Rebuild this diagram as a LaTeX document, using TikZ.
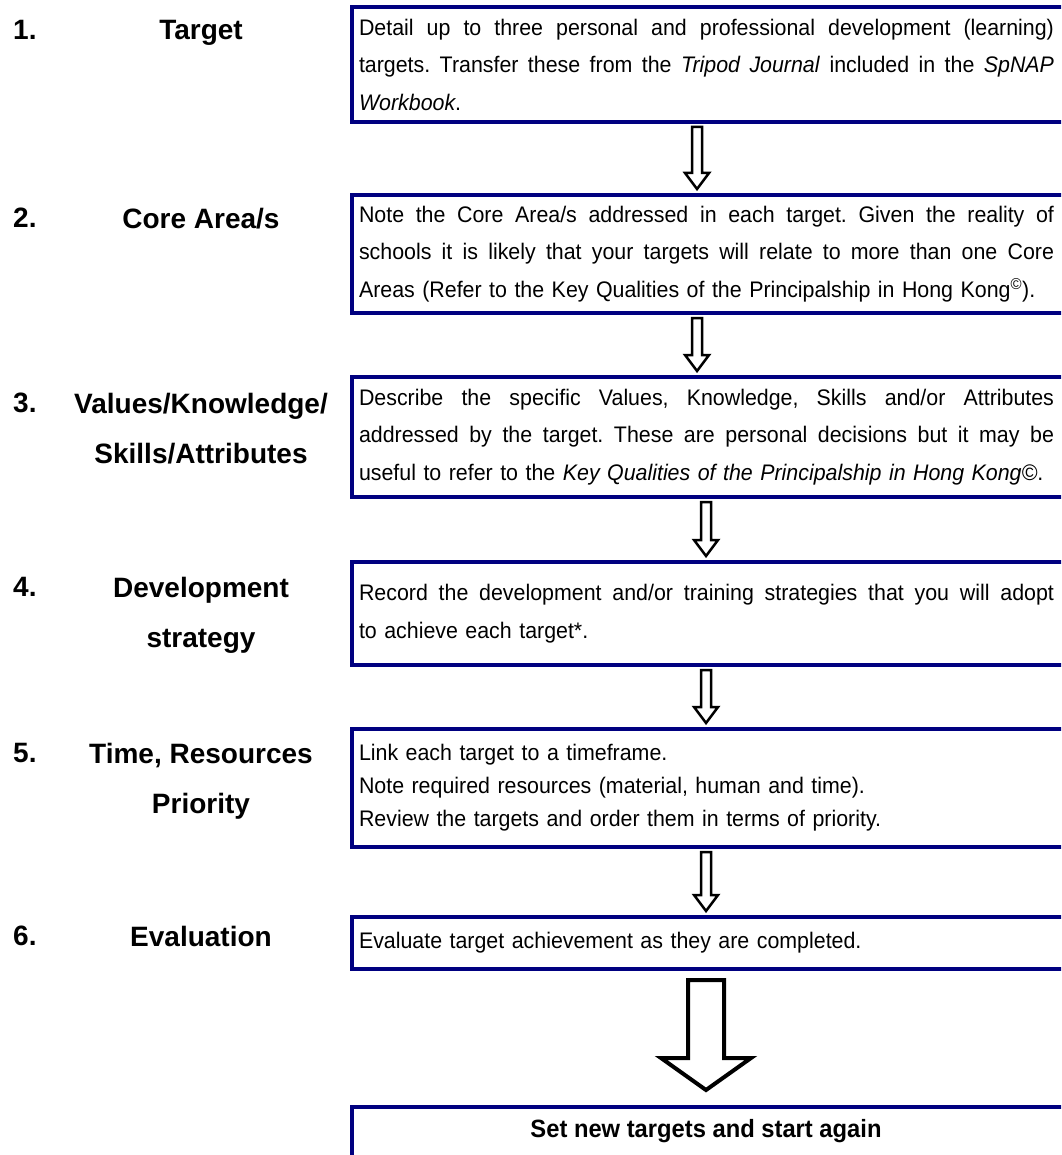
\documentclass[tikz,border=0pt]{standalone}
\usepackage{fontspec}
\setmainfont{Liberation Sans}
\newfontfamily\narrowfont[FakeStretch=0.95]{Liberation Sans}
\usetikzlibrary{calc}
\definecolor{boxnavy}{RGB}{0,0,128}
\newcommand{\bodysize}{\narrowfont\fontsize{22.5}{37.5}\selectfont\frenchspacing}
\newcommand{\tightsize}{\narrowfont\fontsize{22.5}{33}\selectfont\frenchspacing}
\newcommand{\labelsize}{\fontsize{28}{50}\selectfont\bfseries}
\newcommand{\jline}[1]{\leavevmode\hbox to 695pt{\spaceskip=0pt \xspaceskip=0pt #1}}

\begin{document}
\begin{tikzpicture}[
        x=1pt, y=-1pt,
        stepbox/.style={
            rectangle,
            draw=boxnavy,
            line width=4pt,
            anchor=north west,
            inner xsep=7pt,
            inner ysep=0pt,
            text width=720pt,
            align=left,
            font=\bodysize
        },
        numtext/.style={
            anchor=north west,
            inner sep=0pt,
            font=\labelsize
        },
        lbltext/.style={
            anchor=north,
            inner sep=0pt,
            align=center,
            font=\labelsize
        },
        flowarrow/.style={
            draw=black,
            fill=white,
            line width=2.5pt,
            to path={let \p1=(\tikztostart), \p2=(\tikztotarget) in
                (\x1-5pt,\y1-3pt) -- (\x1-5pt,\y2+20pt) -- (\x1-12pt,\y2+20pt)
                -- (\x1,\y2+4pt) -- (\x1+12pt,\y2+20pt) -- (\x1+5pt,\y2+20pt)
                -- (\x1+5pt,\y1-3pt) -- cycle}
        },
        bigarrow/.style={
            draw=black,
            fill=white,
            line width=4pt,
            to path={let \p1=(\tikztostart), \p2=(\tikztotarget) in
                (\x1-18pt,\y1-9pt) -- (\x1-18pt,\y2+47pt) -- (\x1-45pt,\y2+47pt)
                -- (\x1,\y2+15pt) -- (\x1+45pt,\y2+47pt) -- (\x1+18pt,\y2+47pt)
                -- (\x1+18pt,\y1-9pt) -- cycle}
        }
    ]
    \useasboundingbox (0,0) rectangle (1061,1155);
    \clip (0,0) rectangle (1061,1155);
    % arrow columns
    \coordinate (colA) at (697,0);
    \coordinate (colB) at (706,0);
    % Step boxes
    \node[stepbox, minimum height=115pt] (b1) at (350,5) {
        \jline{Detail up to three personal and professional development (learning)}\\
        \jline{targets. Transfer these from the \textit{Tripod Journal} included in the \textit{SpNAP}}\\
        \textit{Workbook}.};
    \node[stepbox, minimum height=118pt] (b2) at (350,193) {
        \jline{Note the Core Area/s addressed in each target. Given the reality of}\\
        \jline{schools it is likely that your targets will relate to more than one Core}\\
        Areas (Refer to the Key Qualities of the Principalship in Hong Kong\textsuperscript{\textcopyright}).};
    \node[stepbox, minimum height=120pt] (b3) at (350,375) {
        \jline{Describe the specific Values, Knowledge, Skills and/or Attributes}\\
        \jline{addressed by the target. These are personal decisions but it may be}\\
        useful to refer to the \textit{Key Qualities of the Principalship in Hong Kong\textcopyright}.};
    \node[stepbox, minimum height=103pt] (b4) at (350,560) {
        \jline{Record the development and/or training strategies that you will adopt}\\
        to achieve each target*.};
    \node[stepbox, minimum height=118pt, font=\tightsize] (b5) at (350,727) {
        Link each target to a timeframe.\\
        Note required resources (material, human and time).\\
        Review the targets and order them in terms of priority.};
    \node[stepbox, minimum height=52pt] (b6) at (350,915) {
        Evaluate target achievement as they are completed.};
    \node[stepbox, minimum height=90pt] (b7) at (350,1105) {};
    \node[anchor=north, inner sep=0pt, font=\narrowfont\fontsize{25}{28}\selectfont\bfseries] (t7)
        at ($(b7.north -| colB)+(0,14)$) {Set new targets and start again};
    % Connections between steps
    \draw[flowarrow] (b1.south -| colA) to (b2.north -| colA);
    \draw[flowarrow] (b2.south -| colA) to (b3.north -| colA);
    \draw[flowarrow] (b3.south -| colB) to (b4.north -| colB);
    \draw[flowarrow] (b4.south -| colB) to (b5.north -| colB);
    \draw[flowarrow] (b5.south -| colB) to (b6.north -| colB);
    \draw[bigarrow] (b6.south -| colB) to (b7.north -| colB);
    % Step labels
    \node[numtext] (n1) at (13,20) {1.};
    \node[lbltext] (l1) at (201,20) {Target};
    \node[numtext] (n2) at (13,208) {2.};
    \node[lbltext] (l2) at (201,208) {Core Area/s};
    \node[numtext] (n3) at (13,393) {3.};
    \node[lbltext] (l3) at (201,393) {Values/Knowledge/\\Skills/Attributes};
    \node[numtext] (n4) at (13,577) {4.};
    \node[lbltext] (l4) at (201,577) {Development\\strategy};
    \node[numtext] (n5) at (13,743) {5.};
    \node[lbltext] (l5) at (201,743) {Time, Resources\\Priority};
    \node[numtext] (n6) at (13,926) {6.};
    \node[lbltext] (l6) at (201,926) {Evaluation};
\end{tikzpicture}
\end{document}
